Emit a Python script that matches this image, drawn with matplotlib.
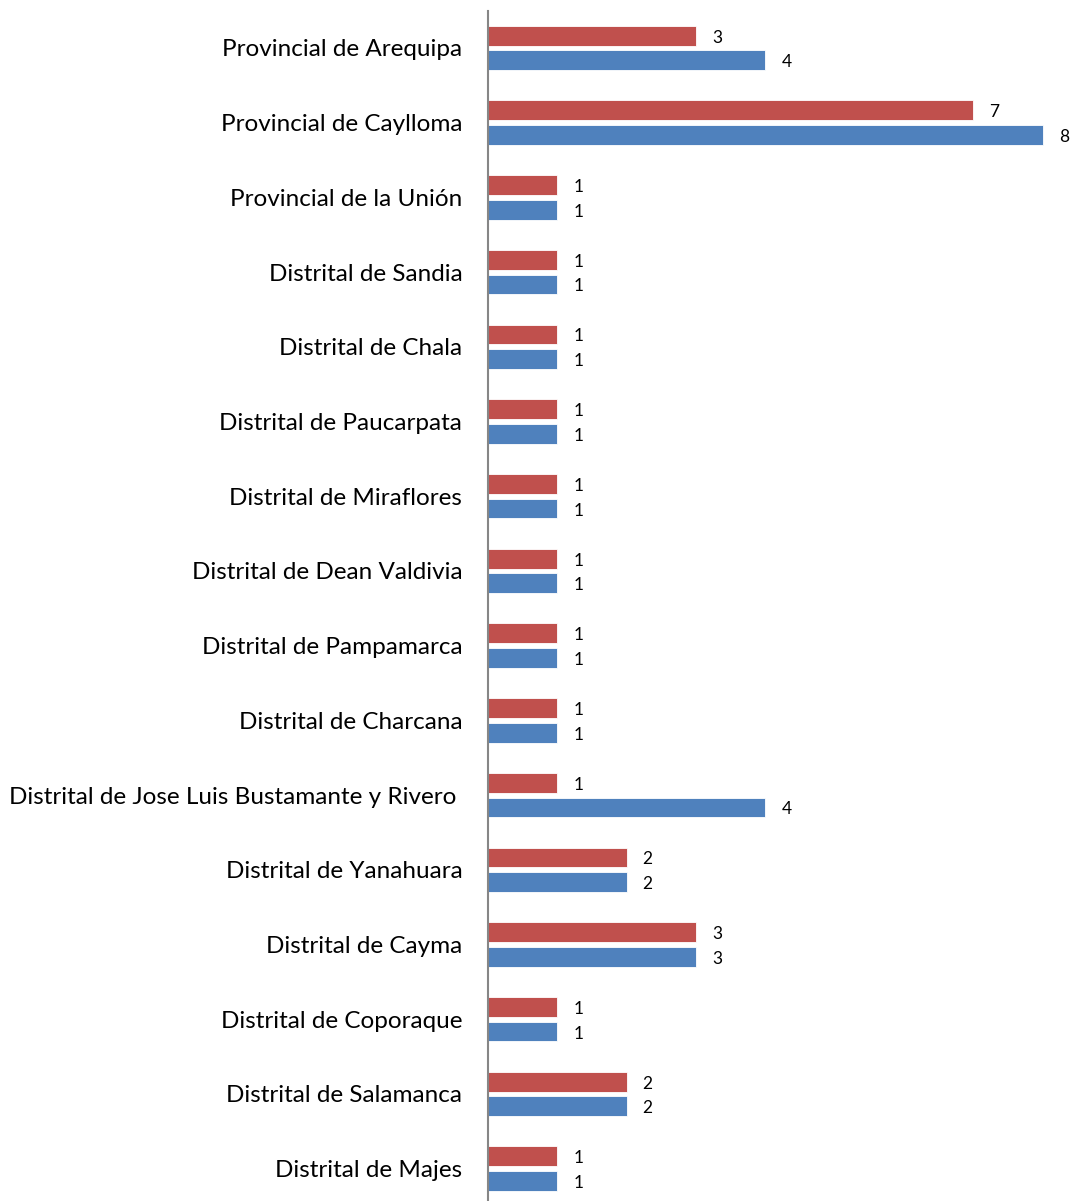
import matplotlib
matplotlib.use("Agg")
import matplotlib.pyplot as plt
import numpy as np

categories = [
    "Provincial de Arequipa",
    "Provincial de Caylloma",
    "Provincial de la Unión",
    "Distrital de Sandia",
    "Distrital de Chala",
    "Distrital de Paucarpata",
    "Distrital de Miraflores",
    "Distrital de Dean Valdivia",
    "Distrital de Pampamarca",
    "Distrital de Charcana",
    "Distrital de Jose Luis Bustamante y Rivero ",
    "Distrital de Yanahuara",
    "Distrital de Cayma",
    "Distrital de Coporaque",
    "Distrital de Salamanca",
    "Distrital de Majes",
]
red_values = [3, 7, 1, 1, 1, 1, 1, 1, 1, 1, 1, 2, 3, 1, 2, 1]
blue_values = [4, 8, 1, 1, 1, 1, 1, 1, 1, 1, 4, 2, 3, 1, 2, 1]

RED = "#C0504D"
BLUE = "#4F81BD"
FONT = ["Lato", "DejaVu Sans"]

W, H = 1073, 1201
fig = plt.figure(figsize=(W / 100, H / 100), dpi=100)
left_px, top_px, bottom_px, right_px = 488, 10.6, 1206, 1073
ax = fig.add_axes([left_px / W, 1 - bottom_px / H, (right_px - left_px) / W, (bottom_px - top_px) / H])

y = np.arange(len(categories))
h = 0.265
off = 0.165
ax.barh(y - off, red_values, height=h, color=RED, edgecolor="white", linewidth=0.6)
ax.barh(y + off, blue_values, height=h, color=BLUE, edgecolor="white", linewidth=0.6)

ax.set_ylim(len(categories) - 0.5, -0.5)
ax.set_xlim(0, (right_px - left_px) / 69.35)

for yi, v in zip(y, red_values):
    ax.annotate(str(v), (v, yi - off), xytext=(16, -2), textcoords="offset pixels",
                va="center", ha="left", fontsize=12.5, family=FONT, color="black")
for yi, v in zip(y, blue_values):
    ax.annotate(str(v), (v, yi + off), xytext=(16, -2), textcoords="offset pixels",
                va="center", ha="left", fontsize=12.5, family=FONT, color="black")

ax.set_yticks(y)
ax.set_yticklabels(categories, fontsize=17.5, family=FONT)
ax.tick_params(axis="y", length=0, pad=18.5)
ax.set_xticks([])
for s in ["top", "right", "bottom"]:
    ax.spines[s].set_visible(False)
ax.spines["left"].set_color("#868686")
ax.spines["left"].set_linewidth(1.5)
ax.patch.set_alpha(0)

fig.savefig("out.png", dpi=100)
